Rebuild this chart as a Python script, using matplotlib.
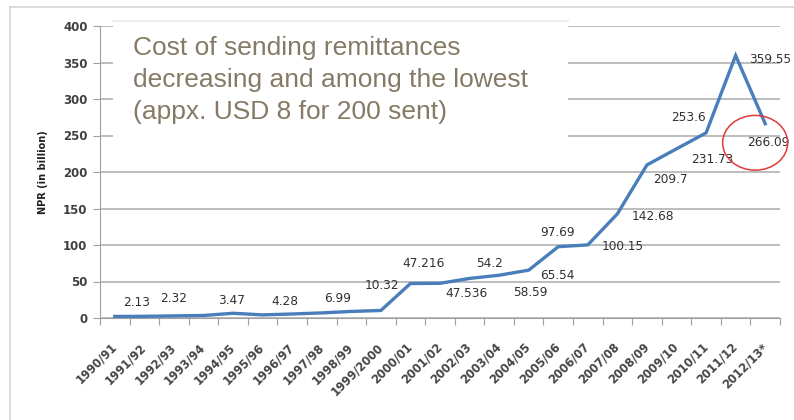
import numpy as np
import matplotlib
matplotlib.use("Agg")
import matplotlib.pyplot as plt
from matplotlib.patches import Rectangle, Ellipse
from matplotlib.lines import Line2D
from matplotlib.transforms import ScaledTranslation

years = ["1990/91", "1991/92", "1992/93", "1993/94", "1994/95", "1995/96",
         "1996/97", "1997/98", "1998/99", "1999/2000", "2000/01", "2001/02",
         "2002/03", "2003/04", "2004/05", "2005/06", "2006/07", "2007/08",
         "2008/09", "2009/10", "2010/11", "2011/12", "2012/13*"]
remittance = [2.13, 2.32, 2.9, 3.47, 6.5, 4.28, 5.5, 6.99, 9.0, 10.32,
              47.216, 47.536, 54.2, 58.59, 65.54, 97.69, 100.15, 142.68,
              209.7, 231.73, 253.6, 359.55, 266.09]
point_labels = ["2.13", "2.32", "", "3.47", "", "4.28", "", "6.99", "", "10.32",
                "47.216", "47.536", "54.2", "58.59", "65.54", "97.69", "100.15",
                "142.68", "209.7", "231.73", "253.6", "359.55", "266.09"]

# hand placed label offsets in pixels (x right, y up), like the original
label_dx = [22, 29, 0, 28, 0, 22, 0, 16, 0, 1, 13, 27, 20, 31, 29, -1, 35, 36, 23, 36, -18, 34, 3]
label_dy = [14, 18, 0, 15, 0, 13, 0, 14, 0, 25, 20, -10, 15, -17, -5, 14, -2, -3, -15, -11, 15, -4, -19]

note = "Cost of sending remittances\ndecreasing and among the lowest\n(appx. USD 8 for 200 sent)"

fig = plt.figure(figsize=(7.94, 4.20), dpi=100)
ax = fig.add_axes([100 / 794, 102 / 420, 680 / 794, 292 / 420])

x = np.arange(len(years))
ax.plot(x, remittance, color="#4a7ebb", lw=2.4, zorder=5, solid_joinstyle="miter")

for xi, v, lab, dx, dy in zip(x, remittance, point_labels, label_dx, label_dy):
    if lab:
        ax.annotate(lab, (xi, v), xytext=(dx, dy), textcoords="offset pixels",
                    ha="center", va="center", fontsize=8.7, color="#303030",
                    family="DejaVu Sans", zorder=6)

ax.set_xlim(-0.5, len(years) - 0.5)
ax.set_ylim(0, 400)
ax.set_yticks(np.arange(0, 401, 50))
ax.grid(axis="y", color="#b8b8b8", lw=1.3)
ax.set_axisbelow(True)

# ticks between categories, labels on category centres
ax.set_xticks(np.arange(len(years) + 1) - 0.5)
ax.set_xticklabels([])
ax.set_xticks(x, minor=True)
ax.set_xticklabels(years, minor=True, rotation=45, ha="right", va="center",
                   rotation_mode="anchor", fontsize=8.3, color="#454545", fontweight="bold")
shift = ScaledTranslation(7 / 100, 0, fig.dpi_scale_trans)
for t in ax.get_xticklabels(minor=True):
    t.set_transform(t.get_transform() + shift)
ax.tick_params(axis="x", which="major", length=5, color="#a0a0a0")
ax.tick_params(axis="x", which="minor", length=0, pad=19.5)
ax.tick_params(axis="y", length=5, color="#a0a0a0", labelsize=8.5, labelcolor="#404040", pad=4)
for t in ax.get_yticklabels():
    t.set_fontweight("bold")

for s in ["top", "right"]:
    ax.spines[s].set_visible(False)
for s in ["left", "bottom"]:
    ax.spines[s].set_color("#a0a0a0")

ax.set_ylabel("NPR (in billion)", fontsize=7, fontweight="bold", color="#202020", labelpad=11)

# white note box covering the upper grid lines
ax.add_patch(Rectangle((13 / 680, 178 / 292), 455 / 680, 120 / 292, transform=ax.transAxes,
                       facecolor="white", edgecolor="none", zorder=3, clip_on=False))
ax.text(33 / 680, 282 / 292, note, transform=ax.transAxes, ha="left", va="top",
        fontsize=19, family="Liberation Sans", color="#857a66", linespacing=1.43, zorder=4)

ax.add_patch(Ellipse((21.66, 240), 2.2, 75, facecolor="none", edgecolor="#e03a3a",
                     lw=1.1, zorder=7, clip_on=False))

# outer frame
fig.add_artist(Line2D([10 / 794, 1], [1 - 7 / 420, 1 - 7 / 420], color="#d4d4d4", lw=1.2))
fig.add_artist(Line2D([10 / 794, 10 / 794], [0, 1 - 7 / 420], color="#d4d4d4", lw=1.2))
fig.add_artist(Line2D([113 / 794, 568 / 794], [1 - 21 / 420, 1 - 21 / 420], color="#eeeeee", lw=1.5))

fig.savefig("out.png", dpi=100)
